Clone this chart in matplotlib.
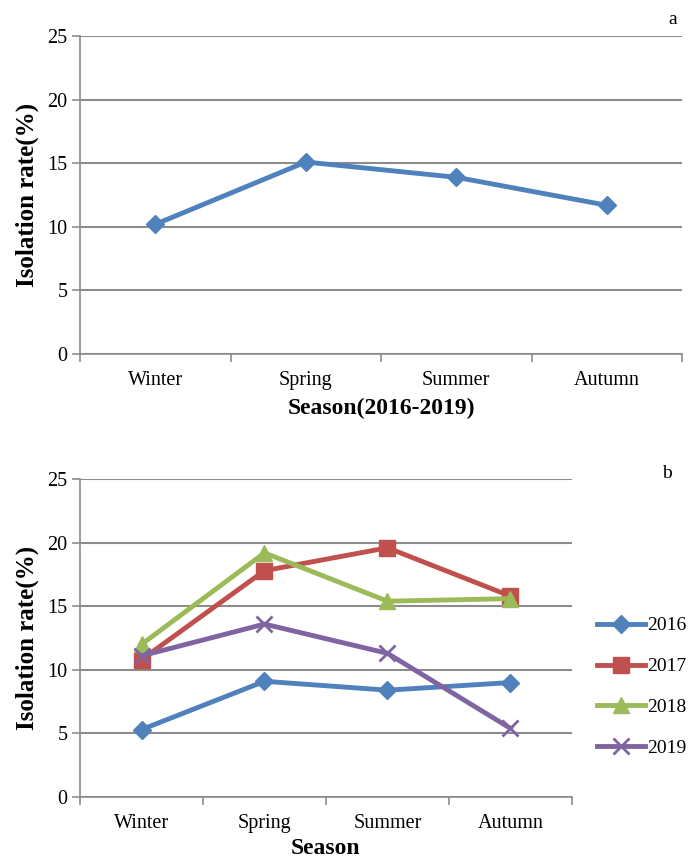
import matplotlib
matplotlib.use("Agg")
import matplotlib.pyplot as plt
import numpy as np

seasons = ["Winter", "Spring", "Summer", "Autumn"]
overall = [10.2, 15.1, 13.9, 11.7]
years = ["2016", "2017", "2018", "2019"]
v2016 = [5.3, 9.1, 8.4, 9.0]
v2017 = [10.8, 17.8, 19.6, 15.8]
v2018 = [12.0, 19.2, 15.4, 15.6]
v2019 = [11.1, 13.6, 11.3, 5.4]
yticks = [0, 5, 10, 15, 20, 25]

colors = ["#4F81BD", "#C0504D", "#9BBB59", "#8064A2"]
markers = ["D", "s", "^", "x"]
msizes = [9, 11, 11, 11]

plt.rcParams['font.family'] = ['Liberation Serif', 'DejaVu Serif']

fig = plt.figure(figsize=(6.88, 8.59), dpi=100)
ax1 = fig.add_axes([0.1163, 0.5879, 0.875, 0.370])
ax2 = fig.add_axes([0.1163, 0.0722, 0.715, 0.370])

grid_c = "#8c8c8c"

def style(ax):
    ax.set_xlim(-0.5, 3.5)
    ax.set_ylim(0, 25)
    ax.set_yticks(yticks)
    ax.set_xticks(range(len(seasons)))
    ax.set_xticklabels(seasons)
    ax.set_xticks(np.arange(-0.5, 4.0, 1.0), minor=True)
    ax.tick_params(axis='x', which='major', length=0, labelsize=14.5, pad=12)
    ax.tick_params(axis='x', which='minor', length=6, width=1.2, color=grid_c, direction='out')
    ax.tick_params(axis='y', length=6, width=1.2, color=grid_c, labelsize=14.5, pad=3)
    for s in ['top', 'right']:
        ax.spines[s].set_visible(False)
    for s in ['left', 'bottom']:
        ax.spines[s].set_color(grid_c)
        ax.spines[s].set_linewidth(1.2)
    ax.yaxis.grid(True, color=grid_c, linewidth=1.5)
    ax.set_axisbelow(True)
    ax.set_ylabel("Isolation rate(%)", fontsize=18, fontweight='bold', labelpad=6)

style(ax1)
x = np.arange(len(seasons))
ax1.plot(x, overall, color=colors[0], linewidth=3.5, marker='D', markersize=9, clip_on=False)
ax1.set_xlabel("Season(2016-2019)", fontsize=17, fontweight='bold', labelpad=6)
fig.text(0.978, 0.977, "a", fontsize=14, ha='center', va='center')

style(ax2)
series = [v2016, v2017, v2018, v2019]
for i, (yr, vals) in enumerate(zip(years, series)):
    kw = dict(color=colors[i], linewidth=3.5, marker=markers[i], markersize=msizes[i], label=yr, clip_on=False)
    if markers[i] == 'x':
        kw['markeredgewidth'] = 2.0
    ax2.plot(x, vals, **kw)
ax2.set_xlabel("Season", fontsize=17, fontweight='bold', labelpad=4)
leg = ax2.legend(loc='center left', bbox_to_anchor=(1.05, 0.346), frameon=False, fontsize=14,
                 handlelength=2.5, handletextpad=0.1, labelspacing=1.2, borderaxespad=0,
                 borderpad=0)
fig.text(0.969, 0.449, "b", fontsize=14, ha='center', va='center')

fig.savefig("out.png", dpi=100)
